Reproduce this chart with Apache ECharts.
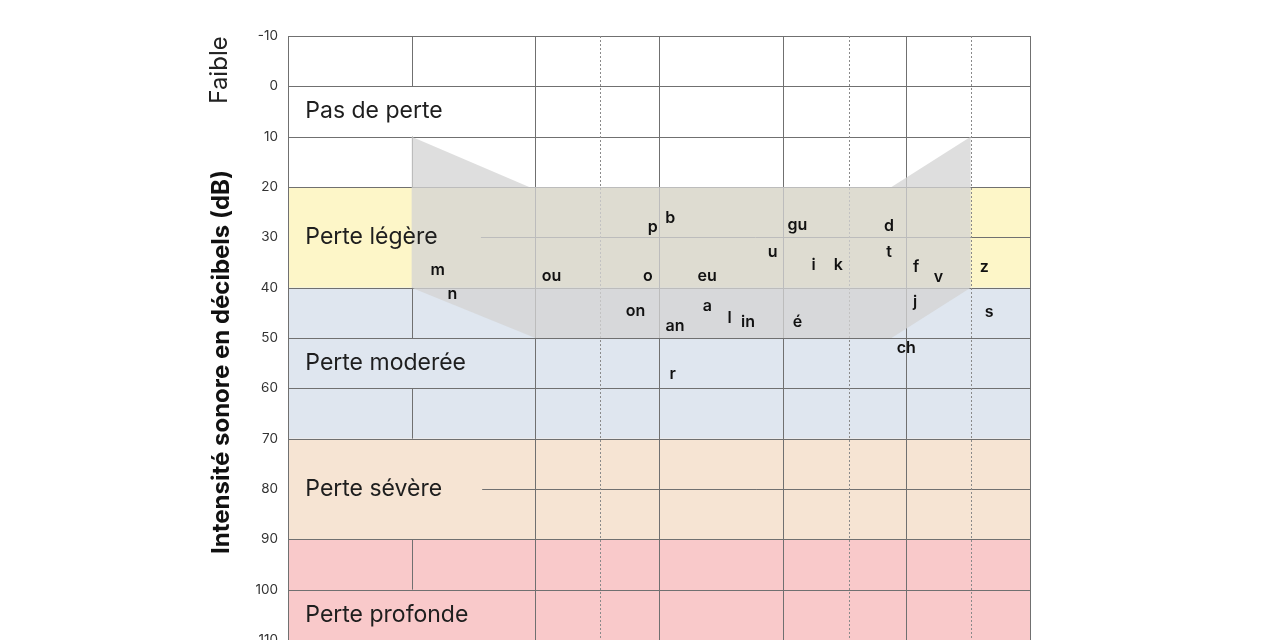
<!DOCTYPE html>
<html><head><meta charset="utf-8">
<script src="https://cdn.jsdelivr.net/npm/echarts@6/dist/echarts.min.js"></script>
<style>html,body{margin:0;padding:0;background:#fff;overflow:hidden}#c{width:1280px;height:640px}</style>
</head><body><div id="c"></div>
<script>
// ---- data ----
const yTicks = [-10, 0, 10, 20, 30, 40, 50, 60, 70, 80, 90, 100, 110];
// frequency columns in octave units from 125 Hz: 125,250,500,750,1000,2000,3000,4000,6000,8000
const freqPositions = [0, 1, 2, 2.52, 3, 4, 4.54, 5, 5.52, 6];
const dashedPositions = [2.52, 4.54, 5.52];
// hidden pieces of the grid (behind the band labels)
const hLineStartAt = {30: 1.56, 80: 1.57};
const vGapColumn = 1;
const vGaps = [[0, 10], [20, 40], [50, 60], [70, 90], [100, 110]];

const bandNames = ['Pas de perte', 'Perte légère', 'Perte moderée', 'Perte sévère', 'Perte profonde'];
const bandFrom = [-10, 20, 40, 70, 90];
const bandTo = [20, 40, 70, 90, 110];
const bandLabelDb = [5, 30, 55, 80, 105];
const bandColors = ['#ffffff', '#fdf6c8', '#dfe6ef', '#f6e4d3', '#f9c9ca'];

const phonemes = ['m','n','ou','p','b','o','on','an','r','eu','a','l','in','u','gu','é','i','k','d','t','f','v','j','ch','z','s'];
const phonemeX = [1.21,1.33,2.13,2.95,3.09,2.91,2.81,3.13,3.11,3.39,3.39,3.57,3.72,3.92,4.12,4.12,4.25,4.45,4.86,4.86,5.08,5.26,5.07,5.00,5.63,5.67];
const phonemeDb = [36.5,41.3,37.7,28.0,26.2,37.7,44.6,47.6,57.2,37.7,43.6,46.0,46.8,32.9,27.6,46.8,35.5,35.5,27.8,32.9,35.9,37.9,42.9,52.0,35.9,44.8];

const bananaX = [1, 1.95, 4.88, 5.52, 5.52, 4.88, 2, 1];
const bananaDb = [10, 20, 20, 10, 40, 50, 50, 40];

const FONT = 'Inter, "Noto Sans", sans-serif';
const LINE = '#707070';

function crisp(v) { return Math.round(v) + 0.5; }

function renderAll(params, api) {
  const c = (x, y) => api.coord([x, y]);
  const ch = [];
  // bands
  bandFrom.forEach((f, i) => {
    const p0 = c(0, f), p1 = c(6, bandTo[i]);
    ch.push({type: 'rect', z2: 1, shape: {x: p0[0], y: p0[1], width: p1[0] - p0[0], height: p1[1] - p0[1]},
      style: {fill: bandColors[i]}});
  });
  // horizontal lines
  yTicks.forEach(t => {
    const x0 = hLineStartAt[t] !== undefined ? hLineStartAt[t] : 0;
    const a = c(x0, t), b = c(6, t);
    ch.push({type: 'line', z2: 2, shape: {x1: a[0], y1: crisp(a[1]), x2: b[0], y2: crisp(b[1])},
      style: {stroke: LINE, lineWidth: 1}});
  });
  // vertical lines
  freqPositions.forEach(x => {
    let segs = [[-10, 110]];
    if (x === vGapColumn) {
      segs = [];
      let cur = -10;
      vGaps.forEach(g => { if (g[0] > cur) segs.push([cur, g[0]]); cur = g[1]; });
      if (cur < 110) segs.push([cur, 110]);
    }
    const dashed = dashedPositions.indexOf(x) >= 0;
    segs.forEach(s => {
      const a = c(x, s[0]), b = c(x, s[1]);
      ch.push({type: 'line', z2: 2, shape: {x1: crisp(a[0]), y1: a[1], x2: crisp(b[0]), y2: b[1]},
        style: {stroke: dashed ? '#8a8a8a' : LINE, lineWidth: 1, lineDash: dashed ? [2, 2] : null}});
    });
  });
  // speech banana
  const pts = bananaX.map((x, i) => c(x, bananaDb[i]));
  ch.push({type: 'polygon', z2: 3, shape: {points: pts}, style: {fill: 'rgba(212,212,212,0.76)'}});
  // band labels
  bandNames.forEach((n, i) => {
    const p = c(0.14, bandLabelDb[i]);
    ch.push({type: 'text', z2: 4, x: p[0], y: p[1],
      style: {text: n, fontSize: 23, fontFamily: FONT, fill: '#1e1e1e', align: 'left', verticalAlign: 'middle'}});
  });
  // phonemes
  phonemes.forEach((n, i) => {
    const p = c(phonemeX[i], phonemeDb[i]);
    ch.push({type: 'text', z2: 5, x: p[0], y: p[1],
      style: {text: n, fontSize: 16, fontWeight: 600, fontFamily: FONT, fill: '#111', align: 'center', verticalAlign: 'middle'}});
  });
  return {type: 'group', children: ch};
}

const chart = echarts.init(document.getElementById('c'));
chart.setOption({
  animation: false,
  backgroundColor: '#fff',
  grid: {left: 288, right: 250, top: 36, bottom: 0, containLabel: false, outerBoundsMode: 'none'},
  xAxis: {type: 'value', min: 0, max: 6, show: false},
  yAxis: {type: 'value', inverse: true, min: -10, max: 110, interval: 10,
    axisLine: {show: false}, axisTick: {show: false}, splitLine: {show: false},
    axisLabel: {color: '#333', fontSize: 13.5, fontFamily: FONT, margin: 10}},
  graphic: [
    {type: 'text', x: 220, y: 70, rotation: Math.PI / 2,
      style: {text: 'Faible', fontSize: 24, fontFamily: FONT, fill: '#222', align: 'center', verticalAlign: 'middle'}},
    {type: 'text', x: 222, y: 362, rotation: Math.PI / 2,
      style: {text: 'Intensité sonore en décibels (dB)', fontSize: 24, fontWeight: 'bold', fontFamily: FONT, fill: '#111', align: 'center', verticalAlign: 'middle'}}
  ],
  series: [{type: 'custom', coordinateSystem: 'cartesian2d', data: [[0, 0]], renderItem: renderAll, silent: true, clip: false}]
});
</script>
</body></html>
